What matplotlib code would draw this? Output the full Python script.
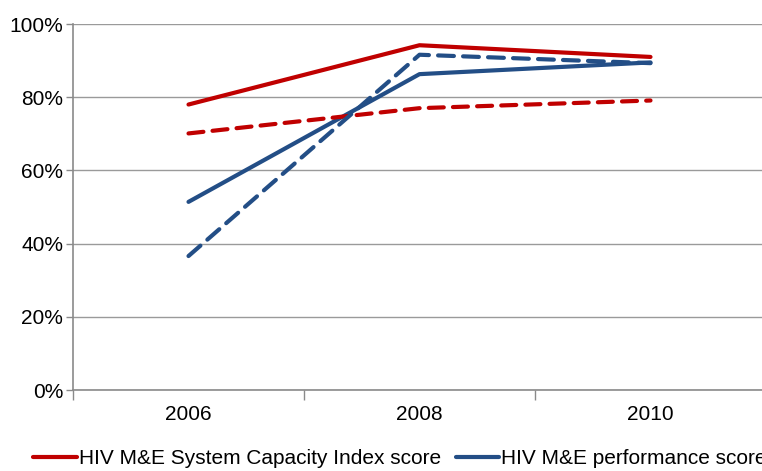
import matplotlib
matplotlib.use("Agg")
import matplotlib.pyplot as plt
from matplotlib.ticker import FuncFormatter, FixedLocator

plt.rcParams['font.family'] = ['Liberation Sans', 'DejaVu Sans']

years = ['2006', '2008', '2010']
capacity_index = [78.0, 94.2, 91.0]
capacity_index_b = [70.1, 77.0, 79.1]
performance = [51.4, 86.3, 89.5]
performance_b = [36.6, 91.6, 89.3]
legend_labels = ['HIV M&E System Capacity Index score', 'HIV M&E performance score']

RED = '#C00000'
BLUE = '#234E86'
FS = 15

fig = plt.figure(figsize=(7.62, 4.71), dpi=100)
ax = fig.add_axes([73/762, 1-390/471, (766-73)/762, (390-24)/471])

x = list(range(len(years)))
lw = 3.0
l1, = ax.plot(x, capacity_index, color=RED, lw=lw, solid_capstyle='round', zorder=3)
l2, = ax.plot(x, performance, color=BLUE, lw=lw, solid_capstyle='round', zorder=3)
ax.plot(x, capacity_index_b, color=RED, lw=lw, linestyle=(0, (3.6, 2.2)), dash_capstyle='round', zorder=3)
ax.plot(x, performance_b, color=BLUE, lw=lw, linestyle=(0, (3.8, 2.2)), dash_capstyle='round', zorder=3)

ax.set_xlim(-0.5, len(years) - 0.5)
ax.set_ylim(0, 100)
ax.set_yticks([0, 20, 40, 60, 80, 100])
ax.yaxis.set_major_formatter(FuncFormatter(lambda v, p: f'{int(v)}%'))
ax.yaxis.grid(True, color='#9a9a9a', lw=1.0)
ax.set_axisbelow(True)

ax.xaxis.set_major_locator(FixedLocator([i - 0.5 for i in range(len(years) + 1)]))
ax.xaxis.set_minor_locator(FixedLocator(x))
ax.set_xticklabels([])
ax.set_xticklabels(years, minor=True)
ax.tick_params(axis='x', which='major', length=7, color='#8a8a8a', width=1)
ax.tick_params(axis='x', which='minor', length=0, pad=11, labelsize=FS)
ax.tick_params(axis='y', length=5, color='#8a8a8a', width=1, labelsize=FS, pad=2)

for s in ['top', 'right']:
    ax.spines[s].set_visible(False)
for s in ['left', 'bottom']:
    ax.spines[s].set_color('#8a8a8a')
    ax.spines[s].set_linewidth(1.2)

fig.legend([l1, l2], legend_labels, loc='center left', bbox_to_anchor=(33/762, 1-459/471),
           ncol=2, frameon=False, fontsize=FS, handlelength=2.1, handletextpad=0.1,
           columnspacing=0.7, borderaxespad=0, borderpad=0)

fig.savefig('out.png', dpi=100)
